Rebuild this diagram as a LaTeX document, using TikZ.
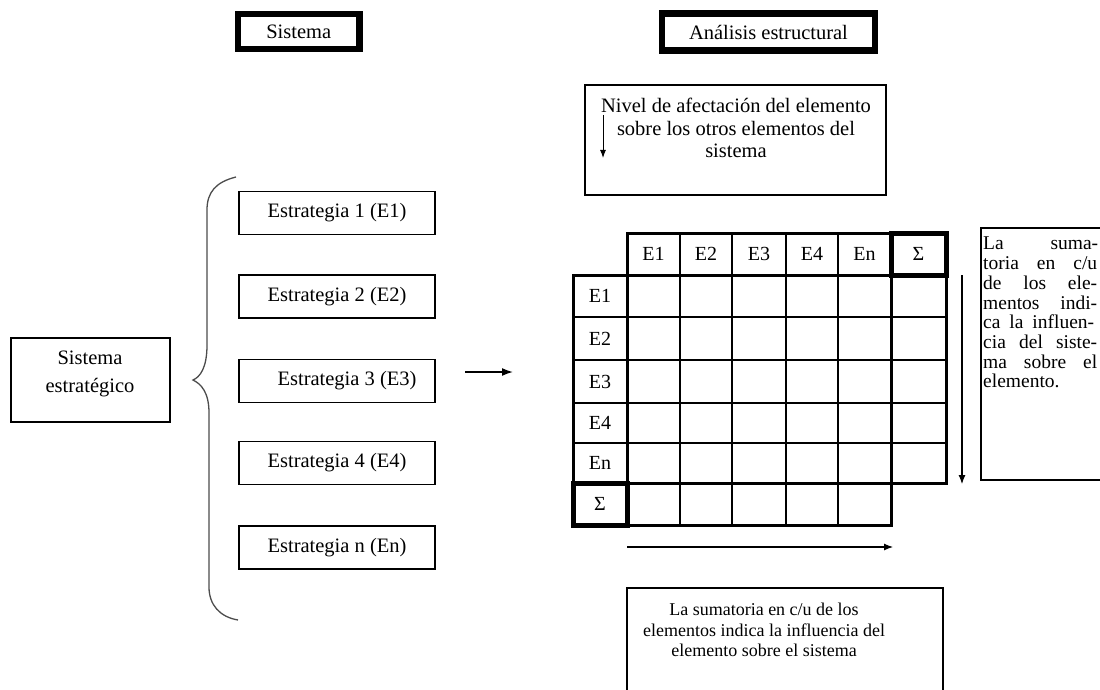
\documentclass[tikz,border=0pt]{standalone}
\usepackage{fontspec}
\setmainfont{Liberation Serif}
\usetikzlibrary{arrows.meta}
\begin{document}
\begin{tikzpicture}[x=1pt,y=-1pt,
  titlebox/.style={draw, line width=6.5pt, inner sep=0pt, font=\fontsize{20.5}{22}\selectfont},
  plainbox/.style={draw, line width=1.4pt, inner sep=0pt, font=\fontsize{20.5}{23}\selectfont, align=center},
  strat/.style={plainbox, minimum width=196pt, minimum height=43pt},
  lbl/.style={inner sep=0pt, font=\fontsize{20}{22}\selectfont},
  thin/.style={line width=1.4pt, line cap=rect},
  thick/.style={line width=3pt, line cap=rect},
  sigma/.style={line width=5pt, line cap=rect},
  arr/.style={line width=1.1pt, -{Latex[length=9pt,width=7pt]}},
  bracecol/.style={draw=black!70, line width=1.3pt}
]
\useasboundingbox (0,0) rectangle (1100,690);
\clip (0,0) rectangle (1100,690);

% titles
\node[titlebox, minimum width=121.5pt, minimum height=35pt] (tsis) at (298.75,31.5) {Sistema};
\node[titlebox, minimum width=213pt, minimum height=37pt] (tana) at (768.5,32) {Análisis estructural};

% left system box
\node[plainbox, minimum width=159pt, minimum height=84pt] (sis) at (90.5,380) {};
\node[lbl, align=center, font=\fontsize{20.5}{28}\selectfont] (sistxt) at (90,374) {Sistema\\estratégico};

% brace
\draw[bracecol] (236,177) .. controls (216,182) and (207,192) .. (207,210) -- (207,345)
  .. controls (207,368) and (200,377) .. (193,380)
  .. controls (201,384) and (209,392) .. (209,413) -- (209,587)
  .. controls (209,605) and (220,617) .. (238,620);

% strategies
\node[strat] (e1) at (337,213) {Estrategia 1 (E1)};
\node[strat] (e2) at (337,296.5) {Estrategia 2 (E2)};
\node[strat] (e3) at (337,381) {\hspace*{20pt}Estrategia 3 (E3)};
\node[strat] (e4) at (337,463) {Estrategia 4 (E4)};
\node[strat] (en) at (337,547.5) {Estrategia n (En)};

% middle arrow
\coordinate (ma) at (465,372);
\coordinate (mb) at (513,372);
\draw[line width=1.6pt, -{Latex[length=11pt,width=8pt]}] (ma) -- (mb);

% nivel box
\node[plainbox, minimum width=301pt, minimum height=110pt] (niv) at (735.5,140) {};
\node[lbl, align=center, font=\fontsize{20.5}{22.5}\selectfont] (nivtxt) at (736,128) {Nivel de afectación del elemento\\sobre los otros elementos del\\sistema};
\coordinate (na) at (603,115);
\coordinate (nb) at (603,158);
\draw[line width=1pt, -{Latex[length=8pt,width=6pt]}] (na) -- (nb);

% matrix
\def\cA{573}\def\cB{627}\def\cC{680}\def\cD{732}\def\cE{786}\def\cF{838}\def\cG{891}\def\cH{946}
\def\rA{233}\def\rB{275}\def\rC{317}\def\rD{360}\def\rE{403}\def\rF{443}\def\rG{483}\def\rH{525}
% thin inner lines
\foreach \x in {\cC,\cD,\cE,\cF} \draw[thin] (\x,\rA) -- (\x,\rH);
\foreach \y in {\rC,\rD,\rE,\rF} \draw[thin] (\cA,\y) -- (\cH,\y);
% thick lines
\draw[thick] (\cB,\rA) -- (\cH,\rA) -- (\cH,\rG);
\draw[thick] (\cB,\rA) -- (\cB,\rH);
\draw[thick] (\cG,\rA) -- (\cG,\rH);
\draw[thick] (\cA,\rB) -- (\cH,\rB);
\draw[thick] (\cA,\rB) -- (\cA,\rH) -- (\cG,\rH);
\draw[thick] (\cA,\rG) -- (\cH,\rG);
% sigma cells
\draw[sigma] (\cG,\rA) rectangle (\cH,\rB);
\draw[sigma] (\cA,\rG) rectangle (\cB,\rH);
% labels
\node[lbl] (h1) at ({(\cB+\cC)/2},{(\rA+\rB)/2}) {E1};
\node[lbl] (h2) at ({(\cC+\cD)/2},{(\rA+\rB)/2}) {E2};
\node[lbl] (h3) at ({(\cD+\cE)/2},{(\rA+\rB)/2}) {E3};
\node[lbl] (h4) at ({(\cE+\cF)/2},{(\rA+\rB)/2}) {E4};
\node[lbl] (h5) at ({(\cF+\cG)/2},{(\rA+\rB)/2}) {En};
\node[lbl] (h6) at ({(\cG+\cH)/2},{(\rA+\rB)/2}) {Σ};
\node[lbl] (v1) at ({(\cA+\cB)/2},{(\rB+\rC)/2}) {E1};
\node[lbl] (v2) at ({(\cA+\cB)/2},{(\rC+\rD)/2}) {E2};
\node[lbl] (v3) at ({(\cA+\cB)/2},{(\rD+\rE)/2}) {E3};
\node[lbl] (v4) at ({(\cA+\cB)/2},{(\rE+\rF)/2}) {E4};
\node[lbl] (v5) at ({(\cA+\cB)/2},{(\rF+\rG)/2}) {En};
\node[lbl] (v6) at ({(\cA+\cB)/2},{(\rG+\rH)/2}) {Σ};

% arrows around matrix
\coordinate (ra) at (962,275);
\coordinate (rb) at (962,484);
\draw[arr] (ra) -- (rb);
\coordinate (ba) at (627,547);
\coordinate (bb) at (893,547);
\draw[arr] (ba) -- (bb);

% right text box
\node[draw, line width=1.4pt, inner sep=0pt, minimum width=130pt, minimum height=252pt] (rbox) at (1046,354) {};
\node[anchor=north west, inner sep=0pt, align=left, font=\fontsize{19.5}{19.7}\selectfont] (rtxt) at (983,237)
 {\makebox[115pt][s]{La suma-}\\
  \makebox[114pt][s]{toria en c/u}\\
  \makebox[114pt][s]{de los ele-}\\
  \makebox[114pt][s]{mentos indi-}\\
  \makebox[111pt][s]{ca la influen-}\\
  \makebox[114pt][s]{cia del siste-}\\
  \makebox[114pt][s]{ma sobre el}\\
  elemento.};

% bottom text box
\node[plainbox, minimum width=316pt, minimum height=112pt] (bbox) at (785,644) {};
\node[lbl, align=center, font=\fontsize{18}{20.5}\selectfont] (btxt) at (764,630) {La sumatoria en c/u de los\\elementos indica la influencia del\\elemento sobre el sistema};
\end{tikzpicture}
\end{document}
